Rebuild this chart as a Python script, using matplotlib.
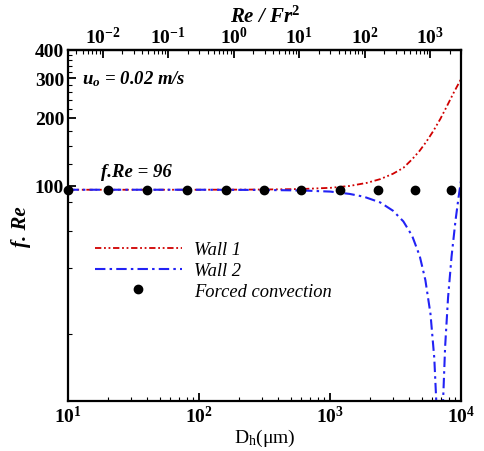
import numpy as np
import matplotlib
matplotlib.use("Agg")
import matplotlib.pyplot as plt
from matplotlib.ticker import FixedLocator, NullFormatter, FixedFormatter, LogLocator

plt.rcParams['font.family'] = ['Liberation Serif', 'DejaVu Serif']
plt.rcParams['mathtext.fontset'] = 'custom'
plt.rcParams['mathtext.rm'] = 'Liberation Serif:bold'
plt.rcParams['mathtext.it'] = 'Liberation Serif:italic:bold'
plt.rcParams['mathtext.bf'] = 'Liberation Serif:bold'
plt.rcParams['axes.unicode_minus'] = False

# ---- data ----
dh_wall1 = [10, 100, 300, 600, 1000, 1400, 1900, 2400, 3000, 3600, 4200, 4800,
            5400, 6100, 6900, 7700, 8700, 10000]
fre_wall1 = [96.0, 96.0, 96.2, 96.7, 97.9, 99.8, 103, 107, 113, 120, 131, 143,
             157, 175, 198, 224, 258, 300]

dh_wall2 = [10, 100, 300, 600, 1000, 1400, 1800, 2400, 3000, 3600, 4200, 4800,
            5300, 5800, 6200, 6500, 6700, 6850, 7000, 7200, 7500, 7900, 8400,
            9000, 9500, 10000]
fre_wall2 = [96.0, 96.0, 95.8, 95.3, 94.2, 92.0, 89.4, 84.3, 77.5, 69.5, 60, 48.8,
             38.2, 27, 17.2, 9.5, 4, 0.5, 4.4, 10.3, 19.3, 32, 48.6,
             70, 89, 109]

dh_forced = [10, 20, 40, 80, 160, 310, 600, 1190, 2290, 4380, 8340]
fre_forced = [96, 96, 96, 96, 96, 96, 96, 96, 96, 96, 96]

x_major = [10, 100, 1000, 10000]
x_major_labels = ['10$^1$', '10$^2$', '10$^3$', '10$^4$']
top_major = [1e-2, 1e-1, 1e0, 1e1, 1e2, 1e3]
top_major_labels = ['10$^{-2}$', '10$^{-1}$', '10$^{0}$', '10$^{1}$', '10$^{2}$', '10$^{3}$']
y_major = [100, 200, 300, 400]
y_minor = [22, 43, 63, 85, 125, 150, 175, 220, 240, 260, 280, 320, 340, 360, 380]
RE_FR2_COEF = 3.0e-5  # Re/Fr^2 = coef * Dh^2

# ---- figure ----
fig = plt.figure(figsize=(4.84, 4.52), dpi=100)
ax = fig.add_axes([0.1411, 0.1106, 0.8124, 0.7766])

ax.plot(dh_wall1, fre_wall1, color='#D00000', lw=1.3,
        linestyle=(0, (3.5, 1.5, 1, 1.5, 1, 1.5)), label='Wall 1')
ax.plot(dh_wall2, fre_wall2, color='#2222F5', lw=1.5,
        linestyle=(0, (5, 2, 1.2, 2)), label='Wall 2')
ax.plot(dh_forced, fre_forced, 'o', color='black', ms=6, ls='none',
        label='Forced convection', clip_on=False, zorder=5)

ax.set_xscale('log')
ax.set_yscale('log')
ax.set_xlim(10, 1e4)
ax.set_ylim(11.1, 400)

ax.xaxis.set_major_locator(FixedLocator(x_major))
ax.xaxis.set_major_formatter(FixedFormatter(x_major_labels))
ax.xaxis.set_minor_locator(LogLocator(base=10, subs=np.arange(2, 10)))
ax.xaxis.set_minor_formatter(NullFormatter())
ax.yaxis.set_major_locator(FixedLocator(y_major))
ax.yaxis.set_major_formatter(FixedFormatter([str(v) for v in y_major]))
ax.yaxis.set_minor_locator(FixedLocator(y_minor))
ax.yaxis.set_minor_formatter(NullFormatter())

for s in ax.spines.values():
    s.set_linewidth(1.6)

ax.tick_params(which='both', direction='in', top=False, right=False)
ax.tick_params(which='major', length=6, width=1.3, labelsize=14, pad=3)
ax.tick_params(which='minor', length=3, width=0.8)
for lab in ax.get_xticklabels() + ax.get_yticklabels():
    lab.set_fontweight('bold')

# top axis
sec = ax.secondary_xaxis('top', functions=(lambda d: RE_FR2_COEF * np.asarray(d) ** 2,
                                           lambda r: np.sqrt(np.asarray(r) / RE_FR2_COEF)))
sec.set_xscale('log')
sec.xaxis.set_major_locator(FixedLocator(top_major))
sec.xaxis.set_major_formatter(FixedFormatter(top_major_labels))
sec.xaxis.set_minor_locator(LogLocator(base=10, subs=np.arange(2, 10)))
sec.xaxis.set_minor_formatter(NullFormatter())
sec.tick_params(which='both', direction='in')
sec.tick_params(which='major', length=6, width=1.3, labelsize=14, pad=2)
sec.tick_params(which='minor', length=3, width=0.8)
for lab in sec.get_xticklabels():
    lab.set_fontweight('bold')
sec.set_xlabel('Re / Fr$^2$', fontsize=15, fontweight='bold', fontstyle='italic', labelpad=3)
sec.spines['top'].set_linewidth(1.6)

ax.set_xlabel('D$_\\mathregular{h}$(\u03bcm)', fontsize=14, labelpad=0)
ax.set_ylabel('f. Re', fontsize=15, fontweight='bold', fontstyle='italic', labelpad=3)

ax.text(0.036, 0.92, 'u$_o$ = 0.02 m/s', transform=ax.transAxes, fontsize=13.5,
        fontweight='bold', fontstyle='italic', va='center')
ax.text(0.083, 0.655, 'f.Re = 96', transform=ax.transAxes, fontsize=13.5,
        fontweight='bold', fontstyle='italic', va='center')

leg = ax.legend(loc='upper left', bbox_to_anchor=(0.068, 0.455), frameon=False,
                handlelength=4.7, handletextpad=0.65, labelspacing=0.2,
                borderpad=0, borderaxespad=0,
                prop={'family': 'Liberation Serif', 'style': 'italic', 'size': 13.3})

fig.savefig('out.png', dpi=100)
